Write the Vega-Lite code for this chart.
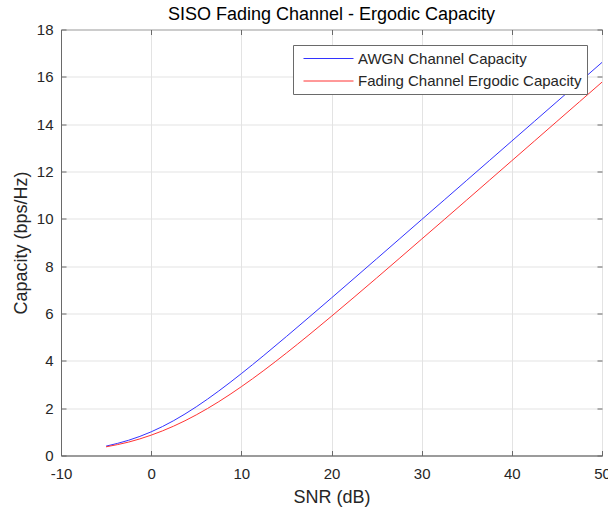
{
  "$schema": "https://vega.github.io/schema/vega-lite/v6.json",
  "width": 541,
  "height": 426,
  "autosize": {"type": "none"},
  "padding": {"left": 61, "top": 29.5, "right": 6, "bottom": 57.5},
  "background": "white",
  "config": {
    "font": "Liberation Sans",
    "view": {"stroke": "#6a6a6a", "strokeWidth": 1}
  },
  "title": {"text": "SISO Fading Channel - Ergodic Capacity", "fontSize": 18, "fontWeight": "normal", "color": "#000000", "offset": -1},
  "datasets": {
    "curves": [
      {"snr": -5, "cap": 0.396, "series": "AWGN Channel Capacity"},
      {"snr": -2.5, "cap": 0.644, "series": "AWGN Channel Capacity"},
      {"snr": 0, "cap": 1.0, "series": "AWGN Channel Capacity"},
      {"snr": 2.5, "cap": 1.474, "series": "AWGN Channel Capacity"},
      {"snr": 5, "cap": 2.057, "series": "AWGN Channel Capacity"},
      {"snr": 7.5, "cap": 2.727, "series": "AWGN Channel Capacity"},
      {"snr": 10, "cap": 3.459, "series": "AWGN Channel Capacity"},
      {"snr": 12.5, "cap": 4.231, "series": "AWGN Channel Capacity"},
      {"snr": 15, "cap": 5.028, "series": "AWGN Channel Capacity"},
      {"snr": 17.5, "cap": 5.839, "series": "AWGN Channel Capacity"},
      {"snr": 20, "cap": 6.658, "series": "AWGN Channel Capacity"},
      {"snr": 22.5, "cap": 7.482, "series": "AWGN Channel Capacity"},
      {"snr": 25, "cap": 8.309, "series": "AWGN Channel Capacity"},
      {"snr": 27.5, "cap": 9.138, "series": "AWGN Channel Capacity"},
      {"snr": 30, "cap": 9.968, "series": "AWGN Channel Capacity"},
      {"snr": 32.5, "cap": 10.797, "series": "AWGN Channel Capacity"},
      {"snr": 35, "cap": 11.627, "series": "AWGN Channel Capacity"},
      {"snr": 37.5, "cap": 12.457, "series": "AWGN Channel Capacity"},
      {"snr": 40, "cap": 13.288, "series": "AWGN Channel Capacity"},
      {"snr": 42.5, "cap": 14.118, "series": "AWGN Channel Capacity"},
      {"snr": 45, "cap": 14.949, "series": "AWGN Channel Capacity"},
      {"snr": 47.5, "cap": 15.779, "series": "AWGN Channel Capacity"},
      {"snr": 50, "cap": 16.61, "series": "AWGN Channel Capacity"},
      {"snr": -5, "cap": 0.367, "series": "Fading Channel Ergodic Capacity"},
      {"snr": -2.5, "cap": 0.567, "series": "Fading Channel Ergodic Capacity"},
      {"snr": 0, "cap": 0.86, "series": "Fading Channel Ergodic Capacity"},
      {"snr": 2.5, "cap": 1.242, "series": "Fading Channel Ergodic Capacity"},
      {"snr": 5, "cap": 1.716, "series": "Fading Channel Ergodic Capacity"},
      {"snr": 7.5, "cap": 2.275, "series": "Fading Channel Ergodic Capacity"},
      {"snr": 10, "cap": 2.907, "series": "Fading Channel Ergodic Capacity"},
      {"snr": 12.5, "cap": 3.596, "series": "Fading Channel Ergodic Capacity"},
      {"snr": 15, "cap": 4.33, "series": "Fading Channel Ergodic Capacity"},
      {"snr": 17.5, "cap": 5.096, "series": "Fading Channel Ergodic Capacity"},
      {"snr": 20, "cap": 5.884, "series": "Fading Channel Ergodic Capacity"},
      {"snr": 22.5, "cap": 6.687, "series": "Fading Channel Ergodic Capacity"},
      {"snr": 25, "cap": 7.5, "series": "Fading Channel Ergodic Capacity"},
      {"snr": 27.5, "cap": 8.32, "series": "Fading Channel Ergodic Capacity"},
      {"snr": 30, "cap": 9.144, "series": "Fading Channel Ergodic Capacity"},
      {"snr": 32.5, "cap": 9.968, "series": "Fading Channel Ergodic Capacity"},
      {"snr": 35, "cap": 10.797, "series": "Fading Channel Ergodic Capacity"},
      {"snr": 37.5, "cap": 11.626, "series": "Fading Channel Ergodic Capacity"},
      {"snr": 40, "cap": 12.456, "series": "Fading Channel Ergodic Capacity"},
      {"snr": 42.5, "cap": 13.286, "series": "Fading Channel Ergodic Capacity"},
      {"snr": 45, "cap": 14.116, "series": "Fading Channel Ergodic Capacity"},
      {"snr": 47.5, "cap": 14.946, "series": "Fading Channel Ergodic Capacity"},
      {"snr": 50, "cap": 15.777, "series": "Fading Channel Ergodic Capacity"}
    ]
  },
  "data": {"name": "curves"},
  "resolve": {"axis": {"x": "independent", "y": "independent"}},
  "layer": [
    {
      "mark": {"type": "line", "strokeWidth": 1, "interpolate": "monotone", "clip": true},
      "encoding": {
        "x": {
          "field": "snr", "type": "quantitative",
          "scale": {"domain": [-10, 50], "nice": false, "zero": false},
          "axis": {
            "title": "SNR (dB)", "titleFontSize": 18, "titleFontWeight": "normal", "titleColor": "#262626", "titlePadding": 7,
            "values": [-10, 0, 10, 20, 30, 40, 50],
            "labelExpr": "replace(datum.label, '\u2212', '-')",
            "labelFontSize": 15, "labelColor": "#262626", "labelPadding": 16, "labelFlush": false,
            "domainColor": "#6a6a6a", "tickColor": "#6a6a6a", "tickSize": -5,
            "gridColor": "#e3e3e3", "grid": true
          }
        },
        "y": {
          "field": "cap", "type": "quantitative",
          "scale": {"domain": [0, 18], "nice": false},
          "axis": {
            "title": "Capacity (bps/Hz)", "titleFontSize": 18, "titleFontWeight": "normal", "titleColor": "#262626", "titlePadding": 6,
            "values": [0, 2, 4, 6, 8, 10, 12, 14, 16, 18],
            "labelFontSize": 15, "labelColor": "#262626", "labelPadding": 13, "labelFlush": false,
            "domainColor": "#6a6a6a", "tickColor": "#6a6a6a", "tickSize": -5,
            "gridColor": "#e3e3e3", "grid": true
          }
        },
        "color": {
          "field": "series", "type": "nominal",
          "scale": {"domain": ["AWGN Channel Capacity", "Fading Channel Ergodic Capacity"], "range": ["#3333ff", "#ff3333"]},
          "legend": {
            "title": null, "orient": "none", "legendX": 232, "legendY": 15.5,
            "symbolType": "M-0.375,0H5.875", "symbolSize": 256, "symbolStrokeWidth": 1,
            "labelFontSize": 15, "labelColor": "#262626", "labelOffset": 43, "labelLimit": 0,
            "strokeColor": "#6a6a6a", "fillColor": "white", "padding": 5,
            "rowPadding": 5.5
          }
        }
      }
    },
    {
      "mark": {"type": "line", "opacity": 0, "clip": true},
      "encoding": {
        "x": {
          "field": "snr", "type": "quantitative",
          "axis": {"orient": "top", "title": null, "labels": false, "grid": false, "domain": false,
                   "values": [-10, 0, 10, 20, 30, 40, 50], "tickColor": "#6a6a6a", "tickSize": -5}
        },
        "y": {
          "field": "cap", "type": "quantitative",
          "axis": {"orient": "right", "title": null, "labels": false, "grid": false, "domain": false,
                   "values": [0, 2, 4, 6, 8, 10, 12, 14, 16, 18], "tickColor": "#6a6a6a", "tickSize": -5}
        },
        "detail": {"field": "series", "type": "nominal"}
      }
    }
  ]
}
